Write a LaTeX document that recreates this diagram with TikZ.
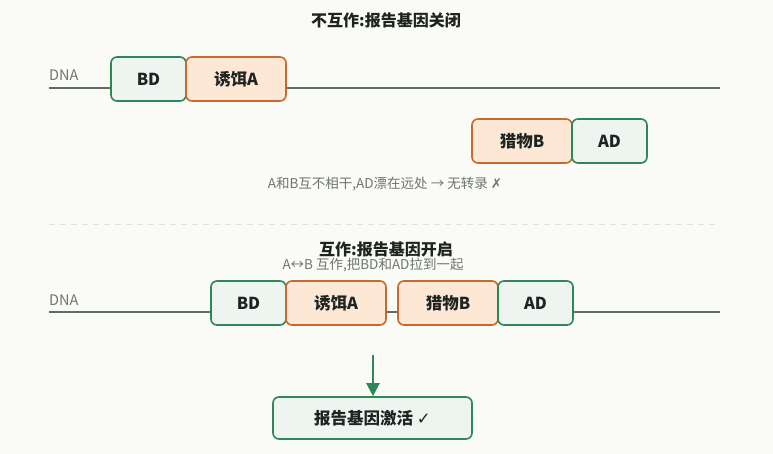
\documentclass[tikz,border=0pt]{standalone}
\usepackage{fontspec}
\setmainfont{Noto Sans CJK SC}
\newfontfamily\symfont{DejaVu Sans}
\usetikzlibrary{arrows.meta}
\definecolor{bgc}{RGB}{250,250,246}
\definecolor{grn}{RGB}{46,135,88}
\definecolor{grnfill}{RGB}{238,244,239}
\definecolor{org}{RGB}{200,105,45}
\definecolor{orgfill}{RGB}{253,232,214}
\definecolor{dnac}{RGB}{95,110,100}
\definecolor{txtg}{RGB}{110,118,114}
\definecolor{dark}{RGB}{30,36,33}
\tikzset{
  gbox/.style={draw=grn, fill=grnfill, line width=1.6pt, rounded corners=6pt, minimum width=75pt, minimum height=44pt, text=dark, font=\fontsize{16.5}{19}\selectfont\bfseries, inner sep=0pt},
  obox/.style={draw=org, fill=orgfill, line width=1.6pt, rounded corners=6pt, minimum width=100pt, minimum height=44pt, text=dark, font=\fontsize{16.5}{19}\selectfont\bfseries, inner sep=0pt},
  dna/.style={draw=dnac, line width=2.6pt},
  dnalbl/.style={text=txtg, font=\fontsize{14.5}{16}\selectfont, anchor=base west, inner sep=0pt},
  title/.style={text=dark, font=\fontsize{16}{19}\selectfont\bfseries, inner sep=0pt},
  note/.style={text=txtg, font=\fontsize{13.5}{15}\selectfont, inner sep=0pt}
}
\begin{document}
\begin{tikzpicture}[x=1pt,y=-1pt]
\fill[bgc] (0,0) rectangle (773,454);
\useasboundingbox (0,0) rectangle (773,454);
% top section
\node[title] (t1) at (386,20) {不互作:报告基因关闭};
\coordinate (d1a) at (49,88);
\coordinate (d1b) at (720,88);
\draw[dna] (d1a) -- (d1b);
\node[dnalbl] (dna1) at (49,81) {DNA};
\node[gbox] (bd1) at (148.5,79) {BD};
\node[obox] (bait1) at (236,79) {诱饵A};
\node[obox] (prey1) at (522,141) {猎物B};
\node[gbox] (ad1) at (609.5,141) {AD};
\node[note] (n1) at (385,184) {A和B互不相干,AD漂在远处 → 无转录 {\symfont ✗}};
% separator
\coordinate (s1) at (49,225);
\coordinate (s2) at (720,225);
\draw[draw=black!12, line width=1pt, dash pattern=on 6pt off 5pt] (s1) -- (s2);
% bottom section
\node[title] (t2) at (386,249) {互作:报告基因开启};
\node[note] (n2) at (373,265) {A↔B 互作,把BD和AD拉到一起};
\coordinate (d2a) at (49,312);
\coordinate (d2b) at (720,312);
\draw[dna] (d2a) -- (d2b);
\node[dnalbl] (dna2) at (49,305) {DNA};
\node[gbox] (bd2) at (248.5,303) {BD};
\node[obox] (bait2) at (336,303) {诱饵A};
\node[obox] (prey2) at (448,303) {猎物B};
\node[gbox] (ad2) at (535.5,303) {AD};
\node[gbox, minimum width=199pt, minimum height=42pt] (res) at (372.5,418) {报告基因激活 {\symfont\mdseries ✓}};
\coordinate (ar1) at (373,355);
\draw[draw=grn, line width=2.2pt, -{Triangle[length=13pt,width=13pt]}] (ar1) -- (ar1 |- res.north);
\end{tikzpicture}
\end{document}
